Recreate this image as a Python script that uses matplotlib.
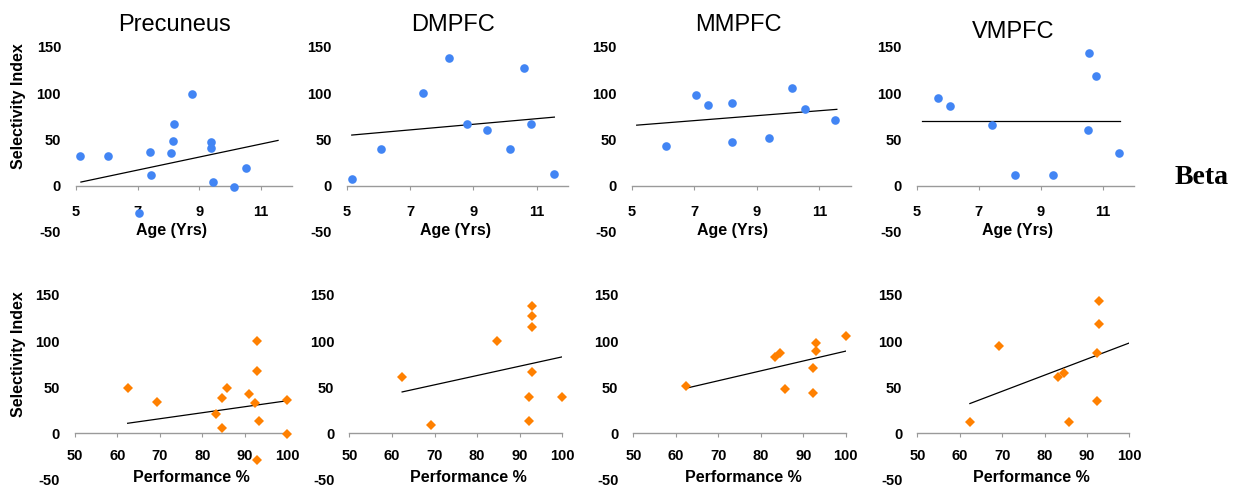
import matplotlib
matplotlib.use("Agg")
import matplotlib.pyplot as plt
import numpy as np

plt.rcParams["axes.unicode_minus"] = False

# ---------------- data ----------------
regions = ["Precuneus", "DMPFC", "MMPFC", "VMPFC"]

# Age (years) vs selectivity index
prec_age = [5.13, 6.03, 7.03, 7.39, 7.44, 8.10, 8.16, 8.17, 8.76, 9.38, 9.38, 9.45, 10.12, 10.52]
prec_age_si = [32.5, 32, -30, 37, 12, 35, 48.5, 66.4, 99.6, 47.4, 41, 3.6, -1.8, 19.3]
dmpfc_age = [5.16, 6.07, 7.42, 8.23, 8.81, 9.43, 10.16, 10.60, 10.81, 11.56]
dmpfc_age_si = [7.8, 39.2, 100.7, 138.5, 66.4, 60.8, 39.6, 127.6, 66.4, 13]
mmpfc_age = [6.10, 7.07, 7.43, 8.21, 8.20, 9.40, 10.12, 10.53, 11.50]
mmpfc_age_si = [43.3, 97.6, 87, 89.6, 47, 51.3, 105.9, 82.6, 71]
vmpfc_age = [5.69, 6.08, 7.42, 8.18, 9.40, 10.56, 10.77, 10.54, 11.52]
vmpfc_age_si = [94.6, 86.6, 65.2, 11.6, 11.6, 143.4, 118.3, 60.8, 35.3]

# Performance (%) vs selectivity index
prec_perf = [62.4, 69.2, 83.3, 84.6, 84.6, 85.7, 90.9, 92.4, 92.9, 92.9, 93.4, 100.0, 100.0, 92.9]
prec_perf_si = [48.8, 33.6, 20.6, 37.9, 5.4, 49.5, 42.3, 33.2, 100.5, 67.2, 13.7, 35.8, -1, -29]
dmpfc_perf = [62.4, 69.2, 84.6, 92.9, 92.9, 92.9, 92.9, 92.3, 92.3, 100.0]
dmpfc_perf_si = [60.7, 8.7, 100.5, 138, 127.2, 115.6, 66.1, 39.4, 13.4, 39.8]
mmpfc_perf = [62.4, 83.4, 84.6, 85.8, 92.4, 92.4, 92.9, 92.9, 100.0]
mmpfc_perf_si = [51.7, 83.1, 87.5, 47.7, 71.2, 44.1, 98.3, 89.6, 105.9]
vmpfc_perf = [62.4, 69.2, 83.3, 84.7, 85.8, 92.4, 92.4, 92.9, 92.9]
vmpfc_perf_si = [12.3, 94.7, 61.1, 65.4, 12.3, 87.1, 35.4, 143.5, 118.2]

# linear trend lines (value at start and end of the x range)
age_trend_x = [5.16, 11.56]
age_trend_start = [4.0, 54.8, 65.5, 69.5]
age_trend_end = [49.0, 74.2, 82.6, 69.5]
perf_trend_x = [62.4, 100.2]
perf_trend_start = [10.8, 44.8, 48.8, 32.2]
perf_trend_end = [35.4, 83.1, 89.3, 98.3]

age_ticks = [5, 7, 9, 11]
perf_ticks = [50, 60, 70, 80, 90, 100]
y_ticks = [-50, 0, 50, 100, 150]

age_x = [prec_age, dmpfc_age, mmpfc_age, vmpfc_age]
age_y = [prec_age_si, dmpfc_age_si, mmpfc_age_si, vmpfc_age_si]
perf_x = [prec_perf, dmpfc_perf, mmpfc_perf, vmpfc_perf]
perf_y = [prec_perf_si, dmpfc_perf_si, mmpfc_perf_si, vmpfc_perf_si]

# ---------------- style / layout ----------------
W, H = 1239, 487
FONT = "Liberation Sans"
BLUE = "#4285F4"
ORANGE = "#FF8000"
AXIS_GREY = "#9a9a9a"

fig = plt.figure(figsize=(W / 100, H / 100), dpi=100)


def rect(x0, x1, ytop, ybot):
    return [x0 / W, 1 - ybot / H, (x1 - x0) / W, (ybot - ytop) / H]


top_rects = [rect(76, 291.6, 47, 232), rect(346.7, 568.3, 47, 232),
             rect(631.7, 850.6, 47, 232), rect(916.7, 1133.7, 47, 232)]
bot_rects = [rect(75, 287.3, 295, 479.3), rect(349.3, 562.3, 295, 479.3),
             rect(633.3, 845.7, 295, 479.3), rect(917.3, 1129.3, 295, 479.3)]

title_pos = [(175, 25), (453, 25), (738, 25), (1013, 32)]
age_label_pos = [(171.7, 230), (455, 230), (732.7, 230), (1017, 230)]
perf_label_pos = [(191.7, 477.5), (468, 477), (743, 478), (1031.7, 478)]


def style_axes(ax, xlim, xticks, xpad):
    ax.set_xlim(*xlim)
    ax.set_ylim(-50, 150)
    for s in ("left", "top", "right"):
        ax.spines[s].set_visible(False)
    ax.spines["bottom"].set_position(("data", 0))
    ax.spines["bottom"].set_color(AXIS_GREY)
    ax.spines["bottom"].set_linewidth(1.0)
    ax.set_xticks(xticks)
    ax.set_yticks(y_ticks)
    ax.tick_params(axis="x", direction="out", length=3, width=0.8,
                   color=AXIS_GREY, pad=xpad, labelsize=10.5)
    ax.tick_params(axis="y", length=0, pad=10.8, labelsize=10.5)
    for lab in ax.get_xticklabels() + ax.get_yticklabels():
        lab.set_fontweight("bold")
        lab.set_fontfamily(FONT)
    ax.patch.set_alpha(0)


for i in range(4):
    ax = fig.add_axes(top_rects[i])
    ax.plot(age_trend_x, [age_trend_start[i], age_trend_end[i]], color="black", lw=0.9, zorder=2)
    ax.plot(age_x[i], age_y[i], linestyle="none", marker="o", markersize=6.2,
            color=BLUE, markeredgewidth=0, zorder=3, clip_on=False)
    style_axes(ax, (5, 12), age_ticks, 11.0)

    ax2 = fig.add_axes(bot_rects[i])
    ax2.plot(perf_trend_x, [perf_trend_start[i], perf_trend_end[i]], color="black", lw=0.9, zorder=2)
    ax2.plot(perf_x[i], perf_y[i], linestyle="none", marker="D", markersize=4.8,
             color=ORANGE, markeredgewidth=0, zorder=3, clip_on=False)
    style_axes(ax2, (50, 100), perf_ticks, 8.3)

    fig.text(title_pos[i][0] / W, 1 - title_pos[i][1] / H, regions[i],
             ha="center", va="center", fontsize=17, family=FONT)
    fig.text(age_label_pos[i][0] / W, 1 - age_label_pos[i][1] / H, "Age (Yrs)",
             ha="center", va="center", fontsize=11.5, fontweight="bold", family=FONT)
    fig.text(perf_label_pos[i][0] / W, 1 - perf_label_pos[i][1] / H, "Performance %",
             ha="center", va="center", fontsize=11.5, fontweight="bold", family=FONT)

fig.text(19 / W, 1 - 106 / H, "Selectivity Index", rotation=90, ha="center", va="center",
         fontsize=11.5, fontweight="bold", family=FONT)
fig.text(19 / W, 1 - 354 / H, "Selectivity Index", rotation=90, ha="center", va="center",
         fontsize=11.5, fontweight="bold", family=FONT)
fig.text(1202 / W, 1 - 177 / H, "Beta", ha="center", va="center",
         fontsize=20, fontweight="bold", family="Liberation Serif")

fig.savefig("out.png", dpi=100)
